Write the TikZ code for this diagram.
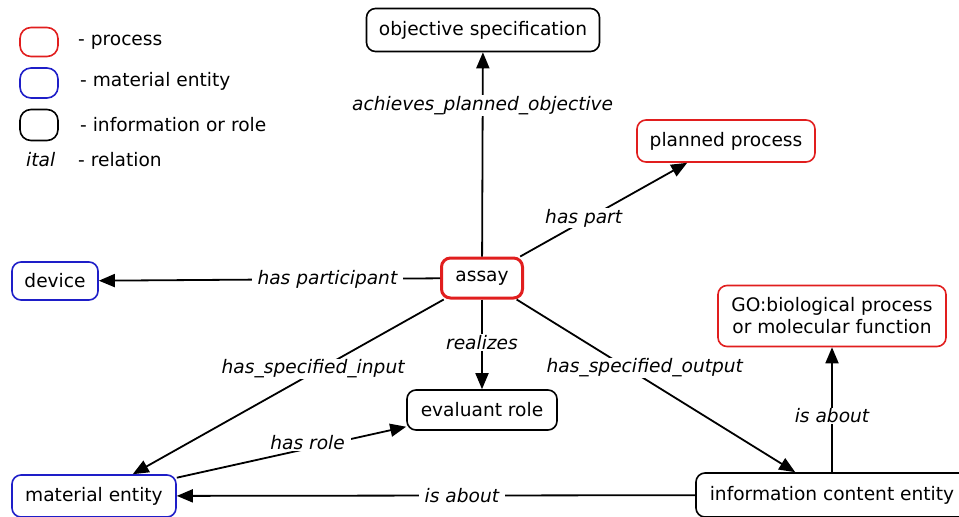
\documentclass[tikz,border=0pt]{standalone}
\usepackage{fontspec}
\setmainfont{DejaVu Sans}
\usetikzlibrary{arrows.meta}
\definecolor{procred}{RGB}{225,30,30}
\definecolor{matblue}{RGB}{30,30,200}
\begin{document}
\begin{tikzpicture}[x=1pt,y=-1pt,
 box/.style={draw, rounded corners=9pt, line width=1.6pt, fill=white, font=\fontsize{18.6}{22}\selectfont, inner sep=2pt, align=center},
 proc/.style={box, draw=procred},
 mat/.style={box, draw=matblue},
 info/.style={box, draw=black},
 legbox/.style={rounded corners=11pt, minimum width=38pt},
 rel/.style={draw, line width=1.8pt, -{Triangle[length=16pt,width=13pt]}},
 lab/.style={fill=white, font=\fontsize{18.6}{22}\selectfont\itshape, inner xsep=6pt, inner ysep=1pt},
 legtext/.style={anchor=west, font=\fontsize{18.6}{22}\selectfont, inner sep=0pt},
]
\useasboundingbox (0,0) rectangle (959,517);
% legend
\node[proc, legbox, minimum height=29pt] (lp) at (39,42) {};
\node[mat, legbox, minimum height=30pt] (lm) at (39,83) {};
\node[info, legbox, minimum height=31pt] (li) at (39,125) {};
\node[legtext] (lpt) at (78,42) {- process};
\node[legtext] (lmt) at (80,81) {- material entity};
\node[legtext] (lit) at (80,125) {- information or role};
\node[legtext, font=\fontsize{18.6}{22}\selectfont\itshape] (lr) at (26,160) {ital};
\node[legtext] (lrt) at (78,160) {- relation};
% nodes
\node[info, minimum width=233pt, minimum height=43pt] (obj) at (483,30) {objective specification};
\node[proc, minimum width=178pt, minimum height=42pt] (pp) at (726,141) {planned process};
\node[proc, line width=3pt, minimum width=81pt, minimum height=40pt] (assay) at (482,278) {assay};
\node[mat, minimum width=86pt, minimum height=38pt] (device) at (55,281) {device};
\node[proc, minimum width=228pt, minimum height=61pt] (go) at (832,316) {GO:biological process\\or molecular function};
\node[info, minimum width=150pt, minimum height=40pt] (er) at (482,410) {evaluant role};
\node[mat, minimum width=164pt, minimum height=42pt] (me) at (94,496) {material entity};
\node[info, minimum width=272pt, minimum height=44pt] (ice) at (832,495) {information content entity};
% relations
\draw[rel] (assay) -- node[lab, pos=0.74]{achieves\_planned\_objective} (obj);
\draw[rel] (assay) -- node[lab, pos=0.38, yshift=3pt]{has part} (pp);
\draw[rel] (assay) -- node[lab, pos=0.33]{has participant} (device);
\draw[rel] (assay) -- node[lab, pos=0.42, yshift=4pt]{has\_specified\_input} (me);
\draw[rel] (assay) -- node[lab, pos=0.48]{realizes} (er);
\draw[rel] (assay) -- node[lab, pos=0.46, yshift=11pt]{has\_specified\_output} (ice);
\draw[rel] (go.south |- ice.north) -- node[lab, pos=0.45]{is about} (go.south);
\draw[rel] (ice) -- node[lab, pos=0.45]{is about} (me);
\draw[rel] (me) -- node[lab, pos=0.57, yshift=6pt]{has role} (er);
\end{tikzpicture}
\end{document}
